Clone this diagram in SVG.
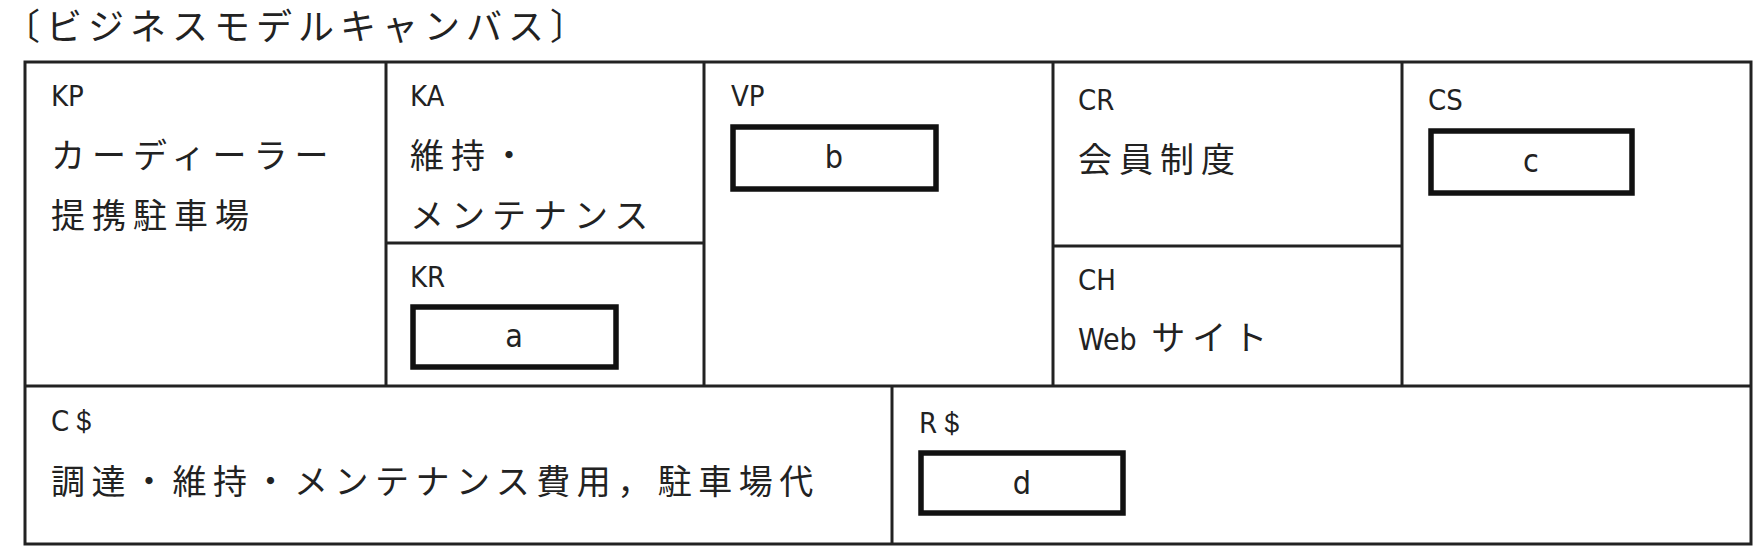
<svg xmlns="http://www.w3.org/2000/svg" width="1762" height="558" viewBox="0 0 1762 558">
<style>
.ln{stroke:#222;stroke-width:3;fill:none}
.bx{stroke:#111;stroke-width:5.5;fill:#fff}
.lb{font-family:"DejaVu Sans Condensed","Liberation Sans",sans-serif;font-size:29px;fill:#222}
.jp{font-family:"Noto Sans CJK JP",sans-serif;font-size:34px;letter-spacing:7px;fill:#222}
.v{font-family:"DejaVu Sans Condensed","Liberation Sans",sans-serif;font-size:32px;fill:#222;text-anchor:middle}
</style>
<rect width="1762" height="558" fill="#fff"/>
<text x="4" y="40" class="jp" style="font-size:36px;letter-spacing:6px">〔ビジネスモデルキャンバス〕</text>
<g id="lines">
<rect class="ln" x="25" y="62" width="1726" height="482"/>
<line class="ln" x1="25" y1="386" x2="1751" y2="386"/>
<line class="ln" x1="386" y1="62" x2="386" y2="386"/>
<line class="ln" x1="704" y1="62" x2="704" y2="386"/>
<line class="ln" x1="1053" y1="62" x2="1053" y2="386"/>
<line class="ln" x1="1402" y1="62" x2="1402" y2="386"/>
<line class="ln" x1="386" y1="243" x2="704" y2="243"/>
<line class="ln" x1="1053" y1="246" x2="1402" y2="246"/>
<line class="ln" x1="892" y1="386" x2="892" y2="544"/>
</g>
<g id="KP"><text x="51" y="106" class="lb">KP</text><text x="51" y="168" class="jp">カーディーラー</text><text x="51" y="228" class="jp">提携駐車場</text></g>
<g id="KA"><text x="410" y="106" class="lb">KA</text><text x="410" y="168" class="jp">維持・</text><text x="410" y="228" class="jp">メンテナンス</text></g>
<g id="KR"><text x="410" y="287" class="lb">KR</text><rect class="bx" x="413" y="307" width="203" height="60"/><text x="514" y="347" class="v">a</text></g>
<g id="VP"><text x="731" y="106" class="lb">VP</text><rect class="bx" x="733" y="127" width="203" height="62"/><text x="834" y="168" class="v">b</text></g>
<g id="CR"><text x="1078" y="110" class="lb">CR</text><text x="1078" y="172" class="jp">会員制度</text></g>
<g id="CH"><text x="1078" y="290" class="lb">CH</text><text x="1078" y="350" class="jp"><tspan class="lb" style="font-size:30px;letter-spacing:0">Web</tspan> サイト</text></g>
<g id="CS"><text x="1428" y="110" class="lb">CS</text><rect class="bx" x="1431" y="131" width="201" height="62"/><text x="1531" y="172" class="v">c</text></g>
<g id="Cd"><text x="51" y="431" class="lb">C＄</text><text x="51" y="494" class="jp" style="letter-spacing:6.5px">調達・維持・メンテナンス費用，駐車場代</text></g>
<g id="Rd"><text x="919" y="433" class="lb">R＄</text><rect class="bx" x="921" y="453" width="202" height="60"/><text x="1022" y="494" class="v">d</text></g>
</svg>
